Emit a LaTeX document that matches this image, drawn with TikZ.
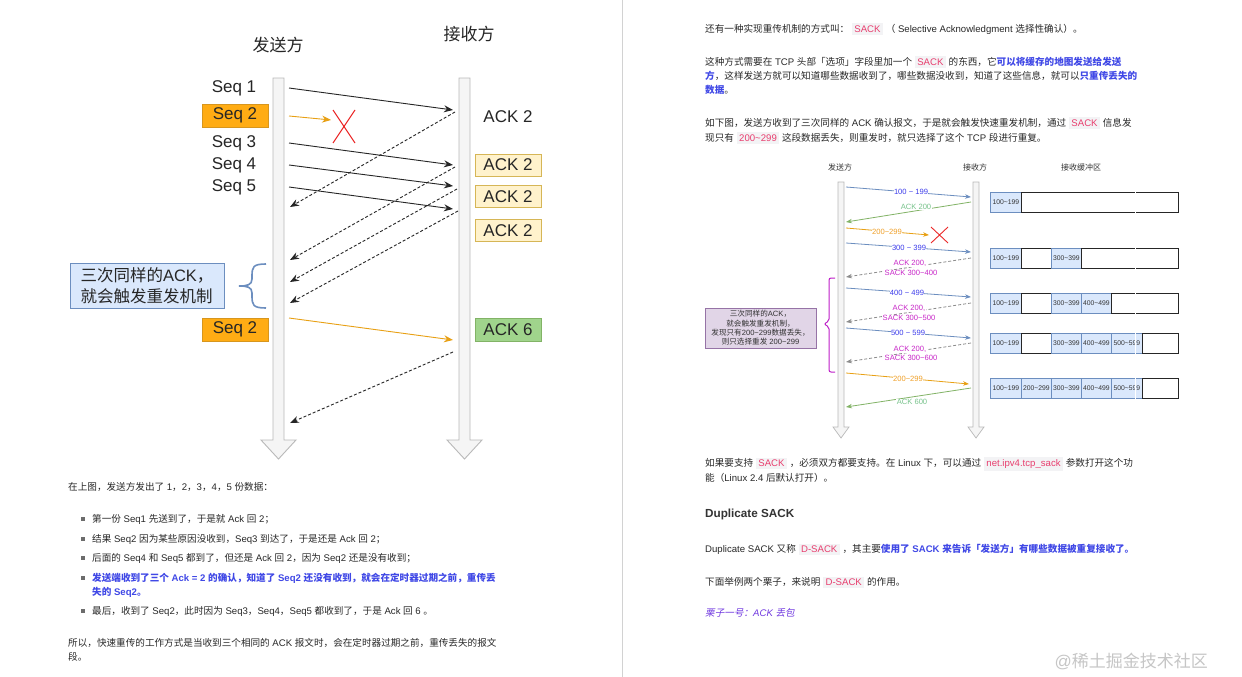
\documentclass[tikz,border=0pt]{standalone}
\usepackage{fontspec}
\usetikzlibrary{arrows.meta}
\setmainfont{Liberation Sans}
\newfontfamily\latinfont{Liberation Sans}
\newfontfamily\cjkfont{Noto Sans CJK SC}[AutoFakeSlant=0.2]
\XeTeXinterchartokenstate=1
\newXeTeXintercharclass\cjkcls
\count255="2E80
\loop \XeTeXcharclass\count255=\cjkcls \ifnum\count255<"9FFF \advance\count255 by 1 \repeat
\count255="FF00
\loop \XeTeXcharclass\count255=\cjkcls \ifnum\count255<"FFEF \advance\count255 by 1 \repeat
\XeTeXinterchartoks 0 \cjkcls = {\cjkfont}
\XeTeXinterchartoks 4095 \cjkcls = {\cjkfont}
\XeTeXinterchartoks \cjkcls 0 = {\latinfont}
\XeTeXinterchartoks \cjkcls 4095 = {\latinfont}
\definecolor{txt}{RGB}{40,40,40}
\definecolor{bluebold}{RGB}{64,72,230}
\definecolor{codefg}{RGB}{232,62,110}
\definecolor{codebg}{RGB}{243,243,245}
\definecolor{purp}{RGB}{112,56,224}
\definecolor{obfill}{RGB}{255,172,20}
\definecolor{obdraw}{RGB}{215,150,30}
\definecolor{ybfill}{RGB}{255,242,204}
\definecolor{ybdraw}{RGB}{214,182,86}
\definecolor{gbfill}{RGB}{160,212,140}
\definecolor{gbdraw}{RGB}{130,179,102}
\definecolor{nbfill}{RGB}{218,232,252}
\definecolor{nbdraw}{RGB}{108,142,191}
\definecolor{blueln}{RGB}{108,142,191}
\definecolor{bluetx}{RGB}{60,60,235}
\definecolor{greenln}{RGB}{130,179,102}
\definecolor{greentx}{RGB}{120,195,140}
\definecolor{orangeln}{RGB}{232,160,20}
\definecolor{orangetx}{RGB}{240,160,40}
\definecolor{magtx}{RGB}{200,40,200}
\definecolor{magln}{RGB}{190,30,200}
\definecolor{dashln}{RGB}{140,140,140}
\definecolor{xred}{RGB}{235,40,40}
\definecolor{pnfill}{RGB}{225,213,231}
\definecolor{pndraw}{RGB}{150,115,166}
\newcommand\tild{\char"7E\relax}
\newcommand\codebox[1]{\hspace{3pt}{\fboxsep=2.2pt\colorbox{codebg}{\color{codefg}#1}}\hspace{3pt}}
\newcommand\blb[1]{{\bfseries\color{bluebold}#1}}
\begin{document}
\begin{tikzpicture}[x=1pt,y=-1pt,
  every node/.style={inner sep=0},
  body/.style={anchor=base west, font=\fontsize{9.6}{12}\selectfont, text=txt},
  big/.style={font=\fontsize{17}{20}\selectfont, text=black!85},
  obox/.style={big, fill=obfill, draw=obdraw, minimum width=66pt, minimum height=23pt},
  ybox/.style={big, fill=ybfill, draw=ybdraw, minimum width=66pt, minimum height=22pt},
  gbox/.style={big, fill=gbfill, draw=gbdraw, minimum width=66pt, minimum height=23pt},
  lifeline/.style={fill=gray!8, draw=gray!55, line width=0.9pt},
  sarrow/.style={-{Stealth[length=9pt,width=7pt]}, line width=0.9pt, draw=black!85},
  darrow/.style={sarrow, dash pattern=on 3pt off 2pt},
  oarrow/.style={sarrow, draw=orangeln, -{Stealth[length=9pt,width=7pt]}},
  small/.style={font=\fontsize{8}{10}\selectfont, text=black!80},
  rl/.style={-{Stealth[length=6pt,width=4.5pt]}, line width=0.8pt},
  lbl/.style={fill=white, inner sep=0.4pt, font=\fontsize{7.6}{9}\selectfont},
  cellb/.style={anchor=north west, fill=nbfill, draw=blueln, line width=0.7pt, minimum height=20pt, font=\fontsize{6.8}{8}\selectfont, text=black!80},
  cellw/.style={anchor=north west, fill=white, draw=black!85, line width=1.1pt, minimum height=20pt},
  bul/.style={fill=gray!85!black, minimum size=3.2pt}
]
\useasboundingbox (0,0) rectangle (1242,677);
\fill[white] (0,0) rectangle (1242,677);
\draw[gray!35, line width=0.8pt] (622,0) -- (622,677);

% ================= LEFT DIAGRAM =================
\draw[lifeline] (273,78) -- (284,78) -- (284,440) -- (296,440) -- (278.5,459) -- (261,440) -- (273,440) -- cycle;
\draw[lifeline] (459,78) -- (470,78) -- (470,440) -- (482,440) -- (464.5,459) -- (447,440) -- (459,440) -- cycle;

\node[big] (tS) at (278,45) {发送方};
\node[big] (tR) at (469,34) {接收方};
\node[big] (q1) at (234,88) {Seq 1};
\node[obox] (q2) at (235,115.5) {Seq 2};
\node[big] (q3) at (234,143) {Seq 3};
\node[big] (q4) at (234,165) {Seq 4};
\node[big] (q5) at (234,187) {Seq 5};
\node[big] (k1) at (508,117) {ACK 2};
\node[ybox] (k2) at (508,165) {ACK 2};
\node[ybox] (k3) at (508,196.5) {ACK 2};
\node[ybox] (k4) at (508,230.5) {ACK 2};
\node[obox] (q2b) at (235,329.5) {Seq 2};
\node[gbox] (k6) at (508,329.5) {ACK 6};
\node[big, fill=nbfill, draw=nbdraw, minimum width=154pt, minimum height=45pt, align=left, font=\fontsize{16.5}{21}\selectfont] (n1) at (147,285.5) {三次同样的ACK，\\就会触发重发机制};
\draw[nbdraw, line width=1.6pt] (266,264) .. controls (253,264) and (252,267) .. (252,276) -- (252,279) .. controls (252,285) and (247,286) .. (239,286) .. controls (247,286) and (252,287) .. (252,293) -- (252,296) .. controls (252,305) and (253,308) .. (266,308);

\coordinate (a1s) at (289,88);  \coordinate (a1e) at (453,110);
\coordinate (a2s) at (289,116); \coordinate (a2e) at (331,120);
\coordinate (a3s) at (289,143); \coordinate (a3e) at (453,165);
\coordinate (a4s) at (289,165); \coordinate (a4e) at (453,186);
\coordinate (a5s) at (289,187); \coordinate (a5e) at (453,209);
\coordinate (d1s) at (455,112); \coordinate (d1e) at (290,207);
\coordinate (d2s) at (455,167); \coordinate (d2e) at (290,260);
\coordinate (d3s) at (457,189); \coordinate (d3e) at (290,282);
\coordinate (d4s) at (458,211); \coordinate (d4e) at (290,303);
\coordinate (a6s) at (289,318); \coordinate (a6e) at (453,340);
\coordinate (d5s) at (453,352); \coordinate (d5e) at (290,423);
\coordinate (x1a) at (333,110); \coordinate (x1b) at (355,143);
\coordinate (x1c) at (355,110); \coordinate (x1d) at (333,143);

\draw[sarrow] (a1s) -- (a1e);
\draw[oarrow] (a2s) -- (a2e);
\draw[xred, line width=1pt] (x1a) -- (x1b) (x1c) -- (x1d);
\draw[sarrow] (a3s) -- (a3e);
\draw[sarrow] (a4s) -- (a4e);
\draw[sarrow] (a5s) -- (a5e);
\draw[darrow] (d1s) -- (d1e);
\draw[darrow] (d2s) -- (d2e);
\draw[darrow] (d3s) -- (d3e);
\draw[darrow] (d4s) -- (d4e);
\draw[oarrow] (a6s) -- (a6e);
\draw[darrow] (d5s) -- (d5e);

% ================= LEFT TEXT =================
\node[body] (p1) at (68,490.4) {在上图，发送方发出了 1，2，3，4，5 份数据：};
\node[bul] (b1) at (83,519) {};
\node[bul] (b2) at (83,539) {};
\node[bul] (b3) at (83,558) {};
\node[bul] (b4) at (83,578) {};
\node[bul] (b5) at (83,611) {};
\node[body] (l1) at (92,522.4) {第一份 Seq1 先送到了，于是就 Ack 回 2；};
\node[body] (l2) at (92,542.4) {结果 Seq2 因为某些原因没收到，Seq3 到达了，于是还是 Ack 回 2；};
\node[body] (l3) at (92,561.4) {后面的 Seq4 和 Seq5 都到了，但还是 Ack 回 2，因为 Seq2 还是没有收到；};
\node[body] (l4) at (92,581.4) {\blb{发送端收到了三个 Ack = 2 的确认，知道了 Seq2 还没有收到，就会在定时器过期之前，重传丢}};
\node[body] (l4b) at (92,595.4) {\blb{失的 Seq2。}};
\node[body] (l5) at (92,614.4) {最后，收到了 Seq2，此时因为 Seq3，Seq4，Seq5 都收到了，于是 Ack 回 6 。};
\node[body] (p2) at (68,646.4) {所以，快速重传的工作方式是当收到三个相同的 ACK 报文时，会在定时器过期之前，重传丢失的报文};
\node[body] (p2b) at (68,660.4) {段。};

% ================= RIGHT TEXT TOP =================
\node[body] (r1) at (705,32.4) {还有一种实现重传机制的方式叫：\codebox{SACK}（ Selective Acknowledgment 选择性确认）。};
\node[body] (r2) at (705,65.4) {这种方式需要在 TCP 头部「选项」字段里加一个\codebox{SACK}的东西，它\blb{可以将缓存的地图发送给发送}};
\node[body] (r3) at (705,79.4) {\blb{方}，这样发送方就可以知道哪些数据收到了，哪些数据没收到，知道了这些信息，就可以\blb{只重传丢失的}};
\node[body] (r4) at (705,93.4) {\blb{数据}。};
\node[body] (r5) at (705,126.4) {如下图，发送方收到了三次同样的 ACK 确认报文，于是就会触发快速重发机制，通过\codebox{SACK}信息发};
\node[body] (r6) at (705,141.4) {现只有\codebox{200\tild299}这段数据丢失，则重发时，就只选择了这个 TCP 段进行重复。};

% ================= RIGHT DIAGRAM =================
\draw[lifeline, line width=0.7pt] (838,182) -- (844,182) -- (844,427) -- (849,427) -- (841,438) -- (833,427) -- (838,427) -- cycle;
\draw[lifeline, line width=0.7pt] (973,182) -- (979,182) -- (979,427) -- (984,427) -- (976,438) -- (968,427) -- (973,427) -- cycle;
\node[small] (rtS) at (840,167) {发送方};
\node[small] (rtR) at (975,167) {接收方};
\node[small] (rtB) at (1081,167) {接收缓冲区};

\coordinate (r1s) at (846,187);  \coordinate (r1e) at (971,197);
\coordinate (r2s) at (971,202);  \coordinate (r2e) at (846,222);
\coordinate (r3s) at (846,228);  \coordinate (r3e) at (929,235);
\coordinate (r4s) at (846,243);  \coordinate (r4e) at (971,252);
\coordinate (r5s) at (971,258);  \coordinate (r5e) at (846,277);
\coordinate (r6s) at (846,288);  \coordinate (r6e) at (971,297);
\coordinate (r7s) at (971,303);  \coordinate (r7e) at (846,322);
\coordinate (r8s) at (846,328);  \coordinate (r8e) at (971,338);
\coordinate (r9s) at (971,343);  \coordinate (r9e) at (846,362);
\coordinate (r10s) at (846,373); \coordinate (r10e) at (969,384);
\coordinate (r11s) at (971,388); \coordinate (r11e) at (846,407);
\coordinate (x2a) at (931,227); \coordinate (x2b) at (948,243);
\coordinate (x2c) at (948,227); \coordinate (x2d) at (931,243);

\draw[rl, blueln] (r1s) -- (r1e);
\draw[rl, greenln] (r2s) -- (r2e);
\draw[rl, orangeln] (r3s) -- (r3e);
\draw[xred, line width=0.9pt] (x2a) -- (x2b) (x2c) -- (x2d);
\draw[rl, blueln] (r4s) -- (r4e);
\draw[rl, dashln, dash pattern=on 3pt off 2pt] (r5s) -- (r5e);
\draw[rl, blueln] (r6s) -- (r6e);
\draw[rl, dashln, dash pattern=on 3pt off 2pt] (r7s) -- (r7e);
\draw[rl, blueln] (r8s) -- (r8e);
\draw[rl, dashln, dash pattern=on 3pt off 2pt] (r9s) -- (r9e);
\draw[rl, orangeln] (r10s) -- (r10e);
\draw[rl, greenln] (r11s) -- (r11e);

\node[lbl, text=bluetx] (L1) at (911,192) {100 \tild{} 199};
\node[lbl, text=greentx] (L2) at (916,207) {ACK 200};
\node[lbl, text=orangetx] (L3) at (887,232) {200\tild299};
\node[lbl, text=bluetx] (L4) at (909,248) {300 \tild{} 399};
\node[lbl, text=magtx] (L5a) at (910,263) {ACK 200,};
\node[lbl, text=magtx] (L5b) at (911,273) {SACK 300\tild400};
\node[lbl, text=bluetx] (L6) at (907,293) {400 \tild{} 499};
\node[lbl, text=magtx] (L7a) at (909,308) {ACK 200,};
\node[lbl, text=magtx] (L7b) at (909,318) {SACK 300\tild500};
\node[lbl, text=bluetx] (L8) at (908,333) {500 \tild{} 599};
\node[lbl, text=magtx] (L9a) at (910,349) {ACK 200,};
\node[lbl, text=magtx] (L9b) at (911,358) {SACK 300\tild600};
\node[lbl, text=orangetx] (L10) at (908,379) {200\tild299};
\node[lbl, text=greentx] (L11) at (912,402) {ACK 600};

\draw[magln, line width=1pt, rounded corners=2pt] (835,278) -- (829,278) -- (829,321) -- (824,324) -- (829,327) -- (829,372) -- (835,372);
\node[fill=pnfill, draw=pndraw, line width=0.7pt, minimum width=111pt, minimum height=40pt, align=center, font=\fontsize{7.6}{9.3}\selectfont, text=black!80] (n2) at (760.5,328) {三次同样的ACK，\\就会触发重发机制，\\发现只有200\tild299数据丢失，\\则只选择重发 200\tild299};

% buffers
\node[cellb, minimum width=31pt] (c11) at (990,192) {100\tild199};
\node[cellw, minimum width=157pt] (c12) at (1021,192) {};
\node[cellb, minimum width=31pt] (c21) at (990,248) {100\tild199};
\node[cellw, minimum width=30pt] (c22) at (1021,248) {};
\node[cellb, minimum width=30pt] (c23) at (1051,248) {300\tild399};
\node[cellw, minimum width=97pt] (c24) at (1081,248) {};
\node[cellb, minimum width=31pt] (c31) at (990,293) {100\tild199};
\node[cellw, minimum width=30pt] (c32) at (1021,293) {};
\node[cellb, minimum width=30pt] (c33) at (1051,293) {300\tild399};
\node[cellb, minimum width=30pt] (c34) at (1081,293) {400\tild499};
\node[cellw, minimum width=67pt] (c35) at (1111,293) {};
\node[cellb, minimum width=31pt] (c41) at (990,333) {100\tild199};
\node[cellw, minimum width=30pt] (c42) at (1021,333) {};
\node[cellb, minimum width=30pt] (c43) at (1051,333) {300\tild399};
\node[cellb, minimum width=30pt] (c44) at (1081,333) {400\tild499};
\node[cellb, minimum width=31pt] (c45) at (1111,333) {500\tild599};
\node[cellw, minimum width=36pt] (c46) at (1142,333) {};
\node[cellb, minimum width=31pt] (c51) at (990,378) {100\tild199};
\node[cellb, minimum width=30pt] (c52) at (1021,378) {200\tild299};
\node[cellb, minimum width=30pt] (c53) at (1051,378) {300\tild399};
\node[cellb, minimum width=30pt] (c54) at (1081,378) {400\tild499};
\node[cellb, minimum width=31pt] (c55) at (1111,378) {500\tild599};
\node[cellw, minimum width=36pt] (c56) at (1142,378) {};
\foreach \yy in {192,248,293,333,378} \draw[white, line width=1pt] (1135,\yy-1) -- (1135,\yy+21);

% ================= RIGHT TEXT BOTTOM =================
\node[body] (r7) at (705,466.4) {如果要支持\codebox{SACK}，必须双方都要支持。在 Linux 下，可以通过\codebox{net.ipv4.tcp\_sack}参数打开这个功};
\node[body] (r8) at (705,481.4) {能（Linux 2.4 后默认打开）。};
\node[body, font=\fontsize{11.7}{14}\selectfont\bfseries, text=black!80] (h1) at (705,517.5) {Duplicate SACK};
\node[body] (r9) at (705,552.4) {Duplicate SACK 又称\codebox{D-SACK}，其主要\blb{使用了 SACK 来告诉「发送方」有哪些数据被重复接收了。}};
\node[body] (r10) at (705,585.4) {下面举例两个栗子，来说明\codebox{D-SACK}的作用。};
\node[body, text=purp, font=\fontsize{9.6}{12}\selectfont\itshape] (r11) at (705,616.4) {栗子一号：ACK 丢包};
\node[anchor=east, font=\fontsize{17}{20}\selectfont, text=gray!45] (wm) at (1208,661) {@稀土掘金技术社区};
\end{tikzpicture}
\end{document}
